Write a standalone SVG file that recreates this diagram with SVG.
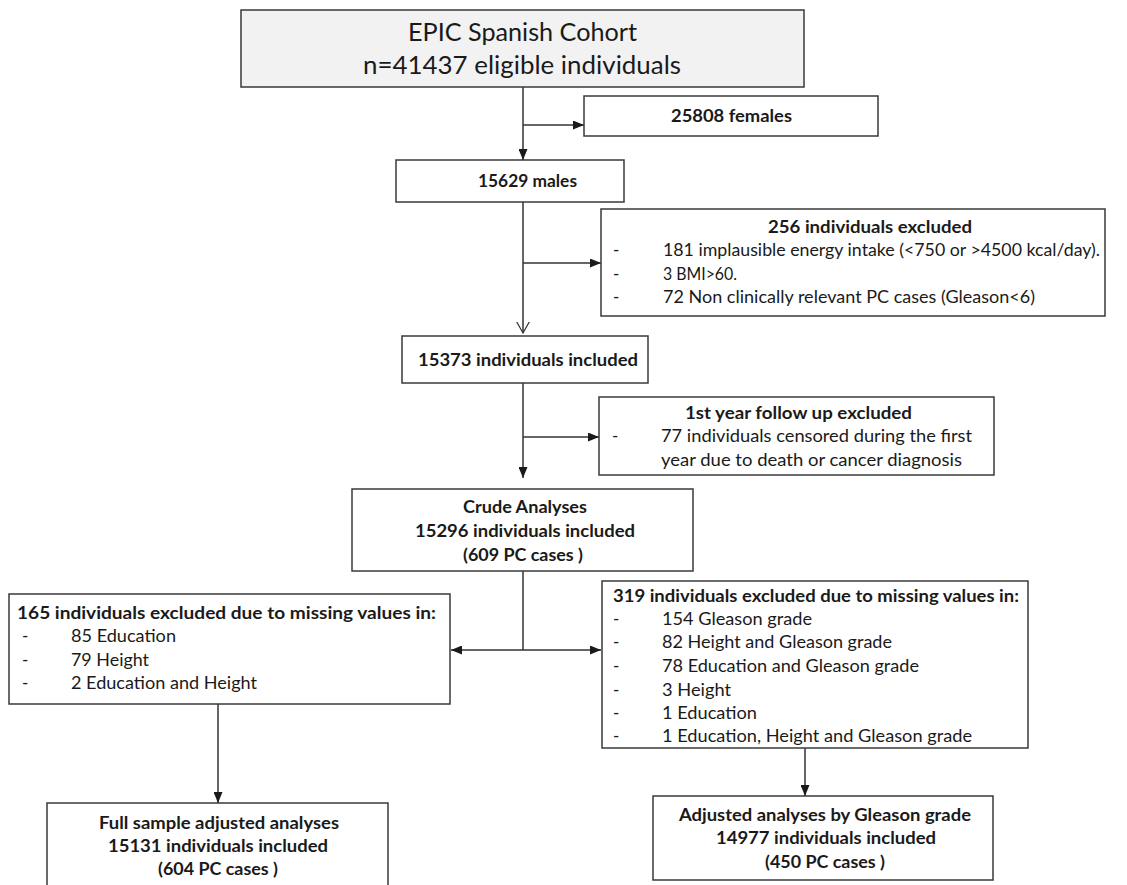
<svg xmlns="http://www.w3.org/2000/svg" width="1127" height="885" viewBox="0 0 1127 885" xml:space="preserve">
<defs>
<style>
.box{fill:#ffffff;stroke:#3a3a3a;stroke-width:1.5}
.top{fill:#f2f2f2;stroke:#3a3a3a;stroke-width:1.5}
.t{font-family:Lato,"Liberation Sans",sans-serif;fill:#1a1a1a}
.r{font-size:17px;font-weight:normal}
.b{font-size:16.5px;font-weight:bold}
.big{font-size:25px;font-weight:normal}
.ln{fill:none;stroke:#333333;stroke-width:1.5}
</style>
<marker id="ah" viewBox="0 0 11 9" refX="11" refY="4.5" markerWidth="11" markerHeight="9" markerUnits="userSpaceOnUse" orient="auto">
<path d="M0,0 L11,4.5 L0,9 z" fill="#1a1a1a"/>
</marker>
<marker id="av" viewBox="0 0 12 14" refX="11.5" refY="7" markerWidth="12" markerHeight="14" markerUnits="userSpaceOnUse" orient="auto">
<path d="M0,0.5 L11.5,7 L0,13.5" fill="none" stroke="#333333" stroke-width="1.2"/>
</marker>
</defs>
<rect width="1127" height="885" fill="#ffffff"/>

<g id="connectors">
<path class="ln" d="M523,87 V160" marker-end="url(#ah)"/>
<path class="ln" d="M523,125 H584" marker-end="url(#ah)"/>
<path class="ln" d="M523,202 V333" marker-end="url(#av)"/>
<path class="ln" d="M523,263 H601" marker-end="url(#ah)"/>
<path class="ln" d="M523,383 V478" marker-end="url(#ah)"/>
<path class="ln" d="M523,437 H599" marker-end="url(#ah)"/>
<path class="ln" d="M523,571 V650"/>
<path class="ln" d="M523,650 H451" marker-end="url(#ah)"/>
<path class="ln" d="M523,650 H601" marker-end="url(#ah)"/>
<path class="ln" d="M218,704 V803" marker-end="url(#ah)"/>
<path class="ln" d="M805,748 V796" marker-end="url(#ah)"/>
</g>

<g id="cohort">
<rect class="top" x="241" y="10" width="563" height="77"/>
<text class="t big" x="408" y="41" textLength="229" lengthAdjust="spacingAndGlyphs">EPIC Spanish Cohort</text>
<text class="t big" x="363" y="74" textLength="318" lengthAdjust="spacingAndGlyphs">n=41437 eligible individuals</text>
</g>

<g id="females">
<rect class="box" x="584" y="96" width="294" height="40"/>
<text class="t b" x="671" y="122" textLength="121" lengthAdjust="spacingAndGlyphs">25808  females</text>
</g>

<g id="males">
<rect class="box" x="396" y="160" width="228" height="42"/>
<text class="t b" x="478" y="187" textLength="99" lengthAdjust="spacingAndGlyphs">15629  males</text>
</g>

<g id="excluded256">
<rect class="box" x="601" y="209" width="504" height="107"/>
<text class="t b" x="768" y="233" textLength="204" lengthAdjust="spacingAndGlyphs">256  individuals excluded</text>
<text class="t r" x="613" y="256">-</text>
<text class="t r" x="663" y="256" textLength="437" lengthAdjust="spacingAndGlyphs">181  implausible energy intake (&lt;750 or &gt;4500  kcal/day).</text>
<text class="t r" x="613" y="280">-</text>
<text class="t r" x="663" y="280" textLength="74" lengthAdjust="spacingAndGlyphs">3 BMI&gt;60.</text>
<text class="t r" x="613" y="303">-</text>
<text class="t r" x="663" y="303" textLength="372" lengthAdjust="spacingAndGlyphs">72 Non clinically relevant PC cases (Gleason&lt;6)</text>
</g>

<g id="included15373">
<rect class="box" x="402" y="336" width="246" height="47"/>
<text class="t b" x="418" y="366" textLength="220" lengthAdjust="spacingAndGlyphs">15373  individuals included</text>
</g>

<g id="firstyear">
<rect class="box" x="599" y="397" width="395" height="78"/>
<text class="t b" x="685" y="419" textLength="227" lengthAdjust="spacingAndGlyphs">1st year follow up excluded</text>
<text class="t r" x="612" y="442">-</text>
<text class="t r" x="661" y="442" textLength="311" lengthAdjust="spacingAndGlyphs">77 individuals censored during the first</text>
<text class="t r" x="661" y="466" textLength="301" lengthAdjust="spacingAndGlyphs">year due to death or cancer diagnosis</text>
</g>

<g id="crude">
<rect class="box" x="352" y="489" width="341" height="82"/>
<text class="t b" x="463" y="513" textLength="124" lengthAdjust="spacingAndGlyphs">Crude Analyses</text>
<text class="t b" x="415" y="537" textLength="220" lengthAdjust="spacingAndGlyphs">15296  individuals included</text>
<text class="t b" x="463" y="561" textLength="120" lengthAdjust="spacingAndGlyphs">(609 PC cases )</text>
</g>

<g id="excluded165">
<rect class="box" x="9" y="594" width="441" height="110"/>
<text class="t b" x="17" y="619" textLength="419" lengthAdjust="spacingAndGlyphs">165  individuals excluded due to missing values in:</text>
<text class="t r" x="22" y="642">-</text>
<text class="t r" x="71" y="642" textLength="105" lengthAdjust="spacingAndGlyphs">85 Education</text>
<text class="t r" x="22" y="666">-</text>
<text class="t r" x="71" y="666" textLength="78" lengthAdjust="spacingAndGlyphs">79 Height</text>
<text class="t r" x="22" y="689">-</text>
<text class="t r" x="71" y="689" textLength="186" lengthAdjust="spacingAndGlyphs">2 Education and Height</text>
</g>

<g id="excluded319">
<rect class="box" x="602" y="581" width="426" height="167"/>
<text class="t b" x="613" y="602" textLength="406" lengthAdjust="spacingAndGlyphs">319  individuals excluded due to missing values in:</text>
<text class="t r" x="613" y="625">-</text>
<text class="t r" x="662" y="625" textLength="150" lengthAdjust="spacingAndGlyphs">154  Gleason grade</text>
<text class="t r" x="613" y="648">-</text>
<text class="t r" x="662" y="648" textLength="230" lengthAdjust="spacingAndGlyphs">82 Height and Gleason grade</text>
<text class="t r" x="613" y="672">-</text>
<text class="t r" x="662" y="672" textLength="257" lengthAdjust="spacingAndGlyphs">78 Education and Gleason grade</text>
<text class="t r" x="613" y="696">-</text>
<text class="t r" x="662" y="696" textLength="69" lengthAdjust="spacingAndGlyphs">3 Height</text>
<text class="t r" x="613" y="719">-</text>
<text class="t r" x="662" y="719" textLength="95" lengthAdjust="spacingAndGlyphs">1 Education</text>
<text class="t r" x="613" y="742">-</text>
<text class="t r" x="662" y="742" textLength="310" lengthAdjust="spacingAndGlyphs">1 Education, Height and Gleason grade</text>
</g>

<g id="fullsample">
<rect class="box" x="47" y="803" width="341" height="90"/>
<text class="t b" x="99" y="829" textLength="240" lengthAdjust="spacingAndGlyphs">Full sample adjusted analyses</text>
<text class="t b" x="108" y="852" textLength="220" lengthAdjust="spacingAndGlyphs">15131  individuals included</text>
<text class="t b" x="158" y="875" textLength="120" lengthAdjust="spacingAndGlyphs">(604 PC cases )</text>
</g>

<g id="gleason">
<rect class="box" x="653" y="796" width="340" height="84"/>
<text class="t b" x="679" y="821" textLength="292" lengthAdjust="spacingAndGlyphs">Adjusted analyses by Gleason grade</text>
<text class="t b" x="716" y="844" textLength="220" lengthAdjust="spacingAndGlyphs">14977  individuals included</text>
<text class="t b" x="765" y="868" textLength="120" lengthAdjust="spacingAndGlyphs">(450 PC cases )</text>
</g>
</svg>
